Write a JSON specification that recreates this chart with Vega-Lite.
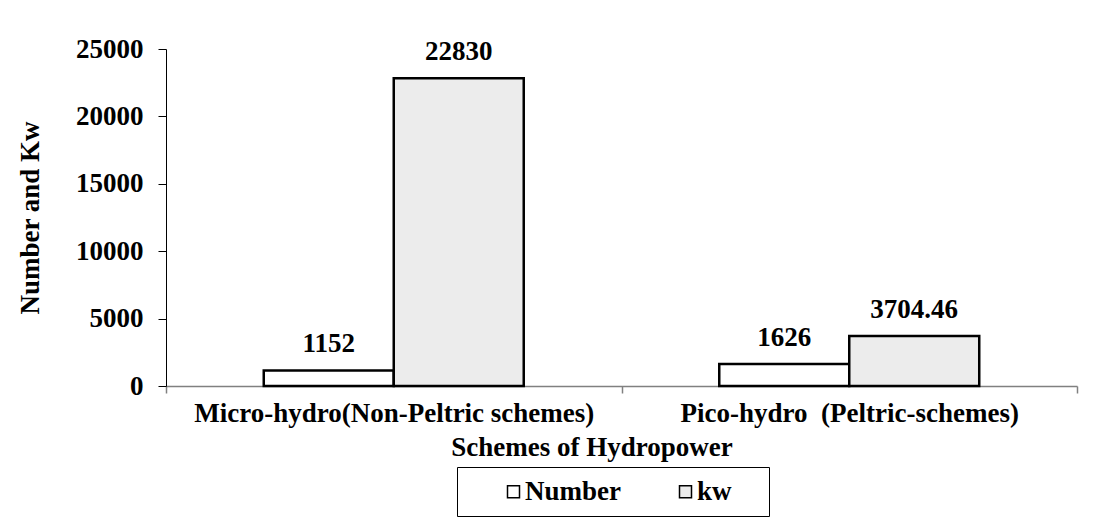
{
  "$schema": "https://vega.github.io/schema/vega-lite/v6.json",
  "width": 911,
  "height": 337,
  "autosize": "none",
  "padding": {"left": 166, "top": 49, "right": 17, "bottom": 134},
  "background": "white",
  "config": {
    "font": "Liberation Serif",
    "view": {"stroke": null},
    "axis": {
      "labelFont": "Liberation Serif",
      "labelFontWeight": "bold",
      "labelFontSize": 27,
      "labelColor": "black",
      "titleFont": "Liberation Serif",
      "titleFontWeight": "bold",
      "titleFontSize": 27,
      "titleColor": "black",
      "grid": false
    },
    "legend": {
      "labelFont": "Liberation Serif",
      "titleFont": "Liberation Serif"
    }
  },
  "data": {
    "values": [
      {"scheme": "Micro-hydro(Non-Peltric schemes)", "series": "Number", "value": 1152},
      {"scheme": "Micro-hydro(Non-Peltric schemes)", "series": "kw", "value": 22830},
      {"scheme": "Pico-hydro\u00a0 (Peltric-schemes)", "series": "Number", "value": 1626},
      {"scheme": "Pico-hydro\u00a0 (Peltric-schemes)", "series": "kw", "value": 3704.46}
    ]
  },
  "encoding": {
    "x": {
      "field": "scheme",
      "type": "nominal",
      "sort": null,
      "scale": {"paddingInner": 0, "paddingOuter": 0},
      "title": "Schemes of Hydropower",
      "axis": {
        "labelAngle": 0,
        "labelLimit": 0,
        "tickBand": "extent",
        "tickSize": 7,
        "domainColor": "#808080",
        "tickColor": "#808080",
        "domainWidth": 1.5,
        "tickWidth": 1.5,
        "labelPadding": 7,
        "titlePadding": 8,
        "titleX": 425.5,
        "titleAnchor": "start",
        "titleAlign": "center"
      }
    },
    "xOffset": {
      "field": "series",
      "type": "nominal",
      "sort": ["Number", "kw"],
      "scale": {"paddingInner": 0, "paddingOuter": 0.752}
    },
    "y": {
      "field": "value",
      "type": "quantitative",
      "scale": {"domain": [0, 25000]},
      "title": "Number and Kw",
      "axis": {
        "values": [0, 5000, 10000, 15000, 20000, 25000],
        "format": "d",
        "tickSize": 8,
        "labelPadding": 15,
        "domainColor": "black",
        "tickColor": "black",
        "titlePadding": 31
      }
    }
  },
  "layer": [
    {
      "mark": {"type": "bar", "stroke": "black", "strokeWidth": 2.5},
      "encoding": {
        "fill": {
          "field": "series",
          "type": "nominal",
          "scale": {"domain": ["Number", "kw"], "range": ["white", "#ececec"]},
          "legend": {
            "orient": "none",
            "legendX": 291,
            "legendY": 418,
            "direction": "horizontal",
            "title": "\u00a0",
            "titleOrient": "right",
            "titleFontSize": 27,
            "titlePadding": 26,
            "strokeColor": "black",
            "padding": 11,
            "symbolType": "square",
            "symbolSize": 144,
            "symbolStrokeColor": "black",
            "symbolStrokeWidth": 1.5,
            "symbolOffset": 32,
            "labelFontSize": 27,
            "labelFontWeight": "bold",
            "labelColor": "black",
            "labelOffset": -2,
            "columnPadding": 19
          }
        }
      }
    },
    {
      "mark": {
        "type": "text",
        "baseline": "alphabetic",
        "dy": -18,
        "fontSize": 27,
        "fontWeight": "bold",
        "font": "Liberation Serif",
        "color": "black"
      },
      "encoding": {
        "text": {"field": "value", "type": "nominal"}
      }
    }
  ]
}
